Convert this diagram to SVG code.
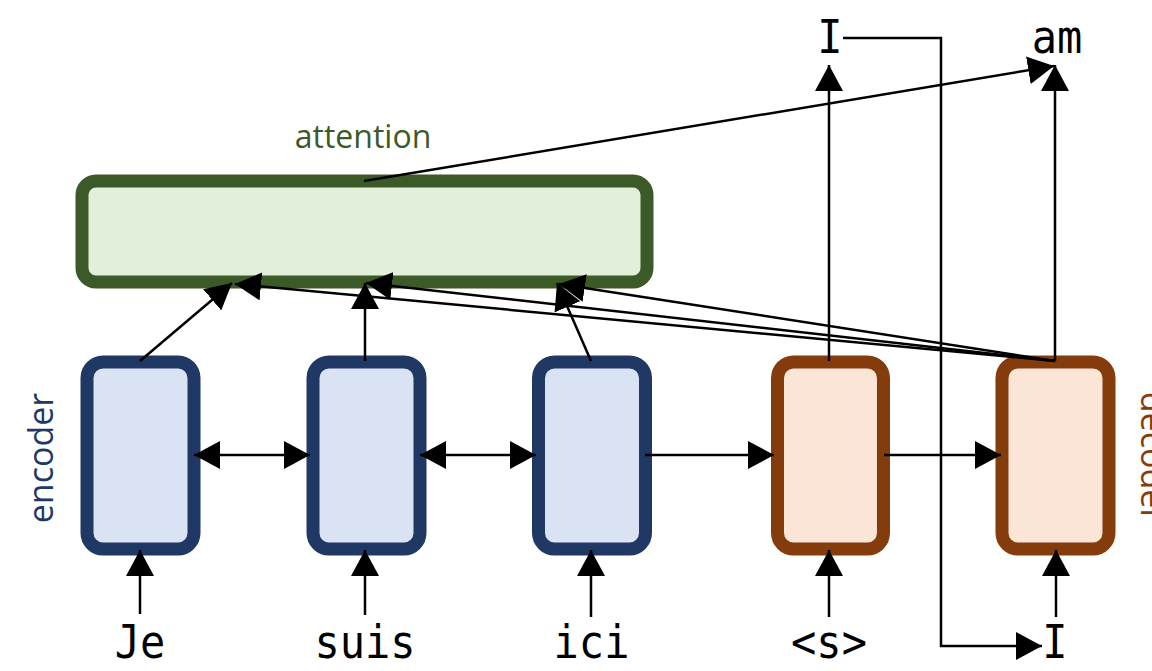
<svg xmlns="http://www.w3.org/2000/svg" width="1152" height="671" viewBox="0 0 1152 671">
  <style>
    .enc { fill: #dae3f3; stroke: #203864; stroke-width: 13; }
    .dec { fill: #fbe5d6; stroke: #843c0c; stroke-width: 13; }
    .att { fill: #e2efda; stroke: #3c5a27; stroke-width: 13; }
    .tok { font-family: "DejaVu Sans Mono", "Liberation Mono", monospace; font-size: 42px; fill: #000; text-anchor: middle; }
    .lbl { font-family: "Open Sans", "Noto Sans", sans-serif; text-anchor: middle; }
    .wire { fill: none; stroke: #000; stroke-width: 2.5; }
    .one { marker-end: url(#tip); }
    .two { marker-start: url(#tip); marker-end: url(#tip); }
  </style>
  <defs>
    <marker id="tip" markerUnits="userSpaceOnUse" markerWidth="26" markerHeight="28" refX="26" refY="14" orient="auto-start-reverse">
      <path d="M0,0 L26,14 L0,28 Z" fill="#000"/>
    </marker>
  </defs>

  <rect width="1152" height="671" fill="#fff"/>

  <!-- attention block -->
  <g id="attention">
    <rect class="att" x="82" y="181" width="565" height="101" rx="14"/>
    <text class="lbl" x="363" y="148" font-size="32" fill="#3c5a27">attention</text>
  </g>

  <!-- encoder cells -->
  <g id="enc1"><rect class="enc" x="87" y="362" width="107" height="187" rx="16"/></g>
  <g id="enc2"><rect class="enc" x="313" y="362" width="107" height="187" rx="16"/></g>
  <g id="enc3"><rect class="enc" x="538.5" y="362" width="107" height="187" rx="16"/></g>
  <g id="encoder-label">
    <text class="lbl" transform="translate(53,458) rotate(-90)" font-size="34" fill="#203864">encoder</text>
  </g>

  <!-- decoder cells -->
  <g id="dec1"><rect class="dec" x="777.5" y="362" width="106" height="187" rx="16"/></g>
  <g id="dec2"><rect class="dec" x="1002" y="362" width="107" height="187" rx="16"/></g>
  <g id="decoder-label">
    <text class="lbl" transform="translate(1141,457) rotate(90)" font-size="34" fill="#843c0c">decoder</text>
  </g>

  <!-- tokens (monospace, slightly tall) -->
  <g id="tok-je"><text class="tok" transform="translate(140,658) scale(1,1.1)">Je</text></g>
  <g id="tok-suis"><text class="tok" transform="translate(365,658) scale(1,1.1)">suis</text></g>
  <g id="tok-ici"><text class="tok" transform="translate(591.5,658) scale(1,1.1)">ici</text></g>
  <g id="tok-s"><text class="tok" transform="translate(829,658) scale(1,1.1)">&lt;s&gt;</text></g>
  <g id="tok-i-in"><text class="tok" transform="translate(1055,658) scale(1,1.1)">I</text></g>
  <g id="tok-i-out"><text class="tok" transform="translate(830,53) scale(1,1.1)">I</text></g>
  <g id="tok-am"><text class="tok" transform="translate(1057,53) scale(1,1.1)">am</text></g>

  <!-- connectors -->
  <g id="connectors">
    <!-- inputs into cells -->
    <path class="wire one" d="M140,614 L140,550"/>
    <path class="wire one" d="M365,615 L365,550"/>
    <path class="wire one" d="M591,617 L591,550"/>
    <path class="wire one" d="M829,617 L829,550"/>
    <path class="wire one" d="M1056,617 L1056,550"/>

    <!-- recurrent links -->
    <path class="wire two" d="M194,455 L310,455"/>
    <path class="wire two" d="M420,455 L536,455"/>
    <path class="wire one" d="M645,455 L774,455"/>
    <path class="wire one" d="M884,455 L1001,455"/>

    <!-- encoder states into attention -->
    <path class="wire one" d="M140,361 L232,283"/>
    <path class="wire one" d="M365,361 L365,283"/>
    <path class="wire one" d="M591,361 L557,283"/>

    <!-- decoder query into attention -->
    <path class="wire one" d="M1055,361 L235,284"/>
    <path class="wire one" d="M1055,361 L366,283"/>
    <path class="wire one" d="M1055,361 L559,284"/>

    <!-- outputs -->
    <path class="wire one" d="M829,361 L829,65"/>
    <path class="wire one" d="M1055,361 L1055,65"/>
    <path class="wire one" d="M364,181 L1054,66"/>

    <!-- previous output fed back as next input -->
    <path class="wire one" d="M843,38 L941,38 L941,646 L1042,646"/>
  </g>
</svg>
